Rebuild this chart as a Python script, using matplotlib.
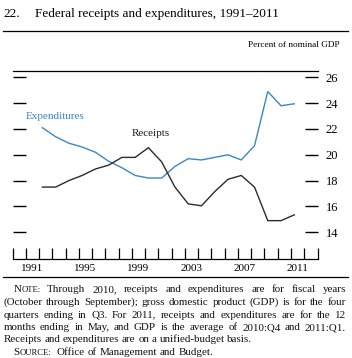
import matplotlib
matplotlib.use("Agg")
import matplotlib.pyplot as plt
from matplotlib.font_manager import FontProperties
import numpy as np

# ---- data ----
years = list(range(1992, 2012))
expenditures = [22.1, 21.4, 20.9, 20.6, 20.2, 19.5, 19.0, 18.4, 18.2, 18.2,
                19.1, 19.7, 19.6, 19.8, 20.0, 19.6, 20.7, 24.9, 23.8, 23.95]
receipts = [17.5, 17.5, 18.0, 18.4, 18.9, 19.2, 19.8, 19.8, 20.55, 19.45,
            17.5, 16.2, 16.05, 17.15, 18.1, 18.4, 17.5, 14.9, 14.9, 15.35]
year_labels = [1991, 1995, 1999, 2003, 2007, 2011]
y_ticks = [14, 16, 18, 20, 22, 24, 26]

title_num = "22."
title_text = "Federal receipts and expenditures, 1991\u20132011"
unit_text = "Percent of nominal GDP"
note_lines = [
    ("NOTE:", "Through 2010, receipts and expenditures are for fiscal years"),
    (None, "(October through September); gross domestic product (GDP) is for the four"),
    (None, "quarters ending in Q3. For 2011, receipts and expenditures are for the 12"),
    (None, "months ending in May, and GDP is the average of 2010:Q4 and 2011:Q1."),
    (None, "Receipts and expenditures are on a unified-budget basis."),
    ("SOURCE:", "Office of Management and Budget."),
]

SERIF = "Liberation Serif"
BLUE = "#3a87c6"
DARK = "#2b2b2b"

W, H = 352, 358
fig = plt.figure(figsize=(W / 100, H / 100), dpi=100)
fig.patch.set_facecolor("white")

def fx(px):
    return px / W

def fy(py):
    return 1 - py / H

# axes placement
ax_l, ax_r, ax_t, ax_b = 12.5, 317.5, 71.0, 259.0
ax = fig.add_axes([fx(ax_l), fy(ax_b), (ax_r - ax_l) / W, (ax_b - ax_t) / H])
ax.set_xlim(1990, 2013)
ax.set_ylim(11.93, 26.49)

xs = np.array(years) + 0.25
ax.plot(xs, expenditures, color=BLUE, lw=1.0, solid_joinstyle="miter")
ax.plot(xs, receipts, color=DARK, lw=1.0, solid_joinstyle="miter")

for s in ["left", "right"]:
    ax.spines[s].set_visible(False)
for s in ["top", "bottom"]:
    ax.spines[s].set_linewidth(0.9)
    ax.spines[s].set_color("black")

ax.set_xticks(range(1990, 2014))
ax.set_xticks([y + 0.5 for y in year_labels], minor=True)
ax.set_xticklabels([str(y) for y in year_labels], minor=True,
                   fontfamily=SERIF, fontsize=8)
ax.tick_params(axis="x", which="major", direction="in", length=8, width=0.9,
               labelbottom=False, top=False)
ax.tick_params(axis="x", which="minor", length=0, pad=3.5)

ax.set_yticks(y_ticks)
ax.set_yticklabels([str(v) for v in y_ticks], fontfamily=SERIF, fontsize=9)
ax.tick_params(axis="y", direction="in", length=9.5, width=1.0, left=True,
               right=True, labelleft=False, labelright=True, pad=6)

ax.text(1991.02, 22.95, "Expenditures", color=BLUE, fontfamily=SERIF,
        fontsize=8, ha="left", va="center")
ax.text(1998.99, 21.66, "Receipts", color="#1a1a1a", fontfamily=SERIF,
        fontsize=8, ha="left", va="center")

renderer = fig.canvas.get_renderer()

def text_w(s, size):
    fp = FontProperties(family=SERIF, size=size)
    w, h, d = renderer.get_text_width_height_descent(s, fp, ismath=False)
    return w

# title
title_size = 10.5 * 243.0 / text_w(title_text, 10.5)
fig.text(fx(3), fy(17), title_num, fontfamily=SERIF, fontsize=title_size,
         ha="left", va="baseline")
fig.text(fx(35), fy(17), title_text, fontfamily=SERIF, fontsize=title_size,
         ha="left", va="baseline")

# rules
fig.add_artist(plt.Line2D([fx(3), fx(348)], [fy(30.7), fy(30.7)], color="black", lw=0.9))
fig.add_artist(plt.Line2D([fx(3), fx(348)], [fy(277.3), fy(277.3)], color="black", lw=0.9))

# unit label
unit_size = 7 * 93.0 / text_w(unit_text, 7)
fig.text(fx(340), fy(47), unit_text, fontfamily=SERIF, fontsize=unit_size,
         ha="right", va="baseline")

# notes, justified
note_size = 8 * 249.0 / text_w(note_lines[4][1], 8)
sc_size = note_size * 0.78
baselines = [292.5, 305, 317.5, 330, 342.5, 355]
left_edge, right_edge = 3.3, 346.0
space_w = text_w("a a", note_size) - text_w("aa", note_size)

for i, (lead, body) in enumerate(note_lines):
    tokens = []  # each token: list of (string, size)
    if lead:
        tokens.append([(lead[0], note_size), (lead[1:], sc_size)])
    for w in body.split(" "):
        tokens.append([(w, note_size)])
    widths = [sum(text_w(s, sz) for s, sz in tok) for tok in tokens]
    start = 13.3 if lead or i == 0 else left_edge
    justify = i < 4
    if justify:
        gap = (right_edge - start - sum(widths)) / (len(tokens) - 1)
    else:
        gap = space_w
    x = start
    for k, (tok, tw) in enumerate(zip(tokens, widths)):
        xx = x
        for s, sz in tok:
            fig.text(fx(xx), fy(baselines[i]), s, fontfamily=SERIF, fontsize=sz,
                     ha="left", va="baseline", color="#111111")
            xx += text_w(s, sz)
        x += tw + gap
        if lead and k == 0 and not justify:
            x += space_w

fig.savefig("out.png", dpi=100, facecolor="white")
